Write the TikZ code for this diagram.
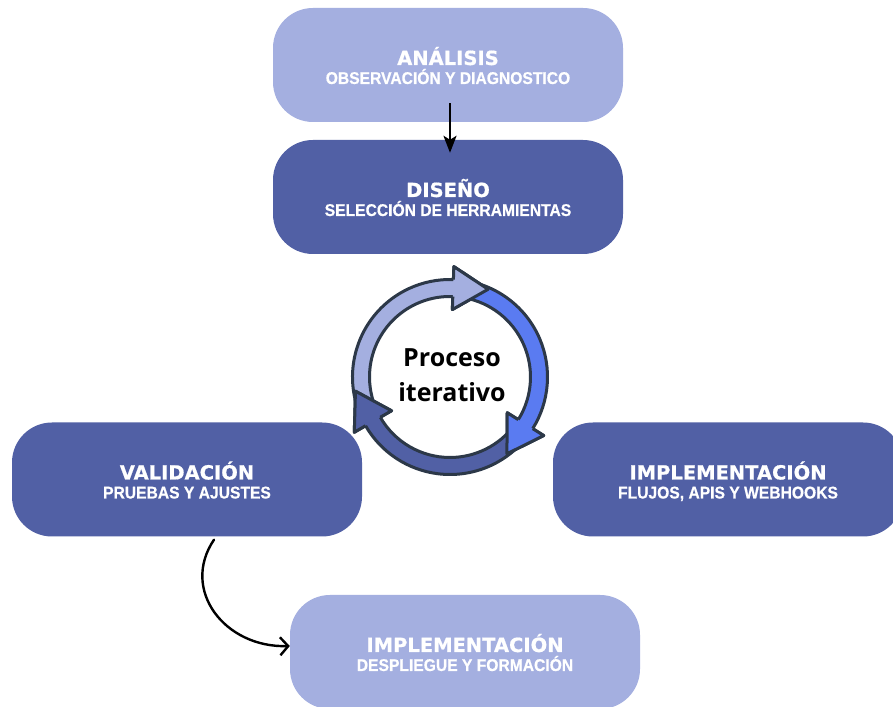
\documentclass[tikz,border=0pt]{standalone}
\usepackage{fontspec}
\setmainfont{DejaVu Sans}
\newfontfamily\headfont{DejaVu Sans}[FakeBold=0.8]
\newfontfamily\subheadfont{Liberation Sans}[FakeStretch=0.92,FakeBold=0.6]
\newfontfamily\cyclefont{Open Sans}
\usetikzlibrary{arrows.meta}

\definecolor{paleblue}{HTML}{A4AFE0}
\definecolor{deepblue}{HTML}{5160A5}
\definecolor{brightblue}{HTML}{5A7BF1}
\definecolor{ringline}{HTML}{2C3848}

\tikzset{
  stage/.style={rectangle, rounded corners=40pt, minimum width=350pt,
    minimum height=114pt, inner sep=0pt, draw=none},
  pale/.style={stage, fill=paleblue},
  deep/.style={stage, fill=deepblue},
  stagetitle/.style={anchor=base, text=white, inner sep=0pt,
    font=\headfont\bfseries\fontsize{19.5}{22}\selectfont},
  stagesub/.style={anchor=base, text=white, inner sep=0pt,
    font=\subheadfont\bfseries\fontsize{17}{20}\selectfont},
  flow/.style={draw=black, line width=2.4pt},
  ringpiece/.style={draw=ringline, line width=3pt, line join=round},
}

\begin{document}
\begin{tikzpicture}[x=1pt,y=1pt]
\useasboundingbox (0,0) rectangle (893,706);
\clip (0,0) rectangle (893,706);
\fill[white] (0,0) rectangle (893,706);

% stage boxes
\node[pale] (analisis) at (448,641) {};
\node[deep] (diseno)   at (448,509) {};
\node[deep] (valid)    at (187,226.5) {};
\node[deep] (impl)     at (728,226.5) {};
\node[pale] (deploy)   at (465,54) {};

% box captions
\node[stagetitle] (analisis-t) at (analisis.center) {ANÁLISIS};
\node[stagesub]   (analisis-s) at ([yshift=-19pt]analisis.center) {OBSERVACIÓN Y DIAGNOSTICO};
\node[stagetitle] (diseno-t) at (diseno.center) {DISEÑO};
\node[stagesub]   (diseno-s) at ([yshift=-19pt]diseno.center) {SELECCIÓN DE HERRAMIENTAS};
\node[stagetitle] (valid-t) at (valid.center) {VALIDACIÓN};
\node[stagesub]   (valid-s) at ([yshift=-19pt]valid.center) {PRUEBAS Y AJUSTES};
\node[stagetitle] (impl-t) at (impl.center) {IMPLEMENTACIÓN};
\node[stagesub]   (impl-s) at ([yshift=-19pt]impl.center) {FLUJOS, APIS Y WEBHOOKS};
\node[stagetitle] (deploy-t) at (deploy.center) {IMPLEMENTACIÓN};
\node[stagesub]   (deploy-s) at ([yshift=-19pt]deploy.center) {DESPLIEGUE Y FORMACIÓN};

% connectors
\draw[flow, -{Stealth[length=17pt,width=13pt,inset=4pt]}]
  ([xshift=2pt,yshift=19pt]analisis.south) -- ([xshift=2pt,yshift=-13pt]diseno.north);
\draw[flow, line cap=round, -{Straight Barb[length=8pt,width=18pt]}]
  ([xshift=27pt,yshift=-3pt]valid.south) .. controls (180,116) and (225,58) .. ([yshift=6pt]deploy.west);

% cycle ring: three arrows, band plus head in one outline
\begin{scope}[shift={(450,329)}]
  \path[ringpiece, fill=paleblue] (205:97.5pt) arc[start angle=205, end angle=88, radius=97.5pt]
    -- (88:110.5pt) -- (66.53:95.6pt) -- (88:67.5pt) -- (88:80.5pt)
    arc[start angle=88, end angle=205, radius=80.5pt] -- cycle;
  \path[ringpiece, fill=brightblue] (83:97.5pt) arc[start angle=83, end angle=-32, radius=97.5pt]
    -- (-32:110.5pt) -- (-53.47:95.6pt) -- (-32:67.5pt) -- (-32:80.5pt)
    arc[start angle=-32, end angle=83, radius=80.5pt] -- cycle;
  \path[ringpiece, fill=deepblue] (-37:97.5pt) arc[start angle=-37, end angle=-150, radius=97.5pt]
    -- (-150:110.5pt) -- (-171.47:95.6pt) -- (-150:67.5pt) -- (-150:80.5pt)
    arc[start angle=-150, end angle=-37, radius=80.5pt] -- cycle;
  % heads again, so each sits over the tail of the next band
  \path[ringpiece, fill=paleblue] (88:97.5pt) -- (88:110.5pt) -- (66.53:95.6pt) -- (88:67.5pt) -- (88:80.5pt);
  \path[ringpiece, fill=brightblue] (-32:97.5pt) -- (-32:110.5pt) -- (-53.47:95.6pt) -- (-32:67.5pt) -- (-32:80.5pt);
  \path[ringpiece, fill=deepblue] (-150:97.5pt) -- (-150:110.5pt) -- (-171.47:95.6pt) -- (-150:67.5pt) -- (-150:80.5pt);
\end{scope}

\node[font=\cyclefont\bfseries\fontsize{25}{35}\selectfont, align=center, inner sep=0pt]
  (cycle) at (452,330.4) {Proceso\\iterativo};
\end{tikzpicture}
\end{document}
